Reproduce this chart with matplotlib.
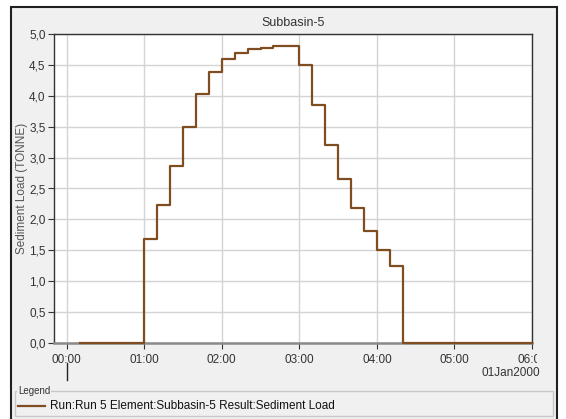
import matplotlib
matplotlib.use("Agg")
import matplotlib.pyplot as plt
from matplotlib.patches import Rectangle
from matplotlib.lines import Line2D
from matplotlib.transforms import Bbox, TransformedBbox, blended_transform_factory

plt.rcParams['font.family'] = ['Liberation Sans', 'DejaVu Sans']
plt.rcParams['font.size'] = 8.5

# ---------------------------------------------------------
# Data: sediment load at end of each 10-min interval (hours)
# ---------------------------------------------------------
times = [i / 6 for i in range(1, 37)]  # 00:10 ... 06:00
load = [0, 0, 0, 0, 0, 0,
        1.68, 2.24, 2.86, 3.49, 4.03, 4.39, 4.59, 4.69, 4.75, 4.77,
        4.80, 4.80, 4.50, 3.85, 3.20, 2.65, 2.19, 1.81, 1.50, 1.25,
        0, 0, 0, 0, 0, 0, 0, 0, 0, 0]

x_ticks = [0, 1, 2, 3, 4, 5, 6]
x_labels = ["00:00", "01:00", "02:00", "03:00", "04:00", "05:00", "06:00"]
y_ticks = [0, 0.5, 1, 1.5, 2, 2.5, 3, 3.5, 4, 4.5, 5]
y_labels = ["0,0", "0,5", "1,0", "1,5", "2,0", "2,5", "3,0", "3,5", "4,0", "4,5", "5,0"]

title = "Subbasin-5"
y_title = "Sediment Load (TONNE)"
date_label = "01Jan2000"
series_name = "Run:Run 5 Element:Subbasin-5 Result:Sediment Load"

W, H = 566, 419
line_color = "#7f4d20"
text_color = "#333333"

fig = plt.figure(figsize=(W / 100, H / 100), dpi=100)
fig.patch.set_facecolor("white")

# outer panel frame
fig.patches.append(Rectangle((11 / W, -0.01), (557 - 11) / W, (H - 7) / H + 0.01,
                             transform=fig.transFigure, facecolor="#f0f0f0",
                             edgecolor="#202020", linewidth=1.5, zorder=-10))

ax = fig.add_axes([54 / W, (H - 343) / H, (532 - 54) / W, (343 - 34) / H])
ax.set_facecolor("white")

ax.plot(times, load, drawstyle="steps-pre", color=line_color, linewidth=1.6,
        zorder=3, clip_on=False)

ax.set_xlim(-0.163, 6.0)
ax.set_ylim(0, 5)
ax.set_xticks(x_ticks)
ax.set_xticklabels(x_labels)
ax.set_yticks(y_ticks)
ax.set_yticklabels(y_labels)
ax.grid(True, color="#d4d4d4", linewidth=1.0)
ax.set_axisbelow(True)
ax.tick_params(axis="both", length=4, width=0.8, color="#333333", labelcolor=text_color)
ax.tick_params(axis="x", pad=4)
ax.tick_params(axis="y", pad=2)

for side in ["left", "top", "right"]:
    ax.spines[side].set_color("#333333")
    ax.spines[side].set_linewidth(1.0)
ax.spines["bottom"].set_color("#8a8a8a")
ax.spines["bottom"].set_linewidth(1.8)

ax.set_ylabel(y_title, color="#555555")
ax.yaxis.set_label_coords(-0.054, 0.5)
ax.set_title(title, fontsize=9, color=text_color, pad=6)

# clip the last tick label near the plot's right edge
clip = TransformedBbox(Bbox([[0, 0], [537 / W, 1]]), fig.transFigure)
for lbl in ax.get_xticklabels():
    lbl.set_clip_on(True)
    lbl.set_clip_box(clip)

# day marker tick and date label
trans = blended_transform_factory(ax.transData, fig.transFigure)
ax.add_line(Line2D([0, 0], [(H - 363) / H, (H - 380) / H], transform=trans,
                   color="#222222", linewidth=1.0, clip_on=False))
fig.text(540 / W, (H - 373) / H, date_label, ha="right", va="center", color=text_color)

# legend group box
fig.patches.append(Rectangle((15 / W, (H - 416) / H), (553 - 15) / W, (416 - 391) / H,
                             transform=fig.transFigure, facecolor="none",
                             edgecolor="#c8c8c8", linewidth=1.0, zorder=1))
fig.text(18 / W, (H - 391) / H, "Legend", ha="left", va="center", fontsize=7,
         color=text_color, bbox=dict(facecolor="#f0f0f0", edgecolor="none", pad=0.5))
fig.lines.append(Line2D([18 / W, 45 / W], [(H - 406) / H] * 2, transform=fig.transFigure,
                        color=line_color, linewidth=1.6))
fig.text(50 / W, (H - 406) / H, series_name, ha="left", va="center", color="#111111")

fig.savefig("out.png", dpi=100)
